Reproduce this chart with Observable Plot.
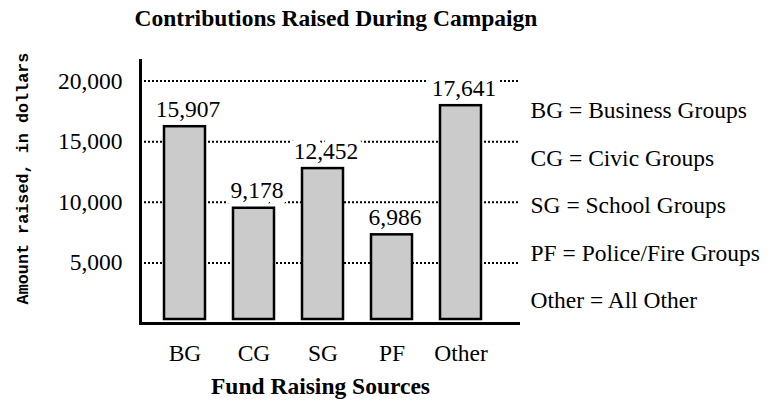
<!DOCTYPE html>
<html><head><meta charset="utf-8">
<script src="https://cdn.jsdelivr.net/npm/d3@7"></script>
<script src="https://cdn.jsdelivr.net/npm/@observablehq/plot@0.6"></script>
<style>
html,body{margin:0;padding:0;background:#fff;}
#title{width:672px;height:35px;padding-top:5px;line-height:40px;text-align:center;font:bold 23.5px "Liberation Serif","Times New Roman",serif;color:#000;white-space:nowrap;}
#chart svg{display:block;}
</style></head><body>
<div id="title"></div>
<div id="chart"></div>
<script>
const chartTitle = "Contributions Raised During Campaign";
const xTitle = "Fund Raising Sources";
const yTitle = "Amount raised, in dollars";
const categories = ["BG", "CG", "SG", "PF", "Other"];
const amounts = [15907, 9178, 12452, 6986, 17641];
const yTicks = [5000, 10000, 15000, 20000];
const legendLines = [
  "BG = Business Groups",
  "CG = Civic Groups",
  "SG = School Groups",
  "PF = Police/Fire Groups",
  "Other = All Other"
];

const fmt = d3.format(",");
const data = categories.map((c, i) => ({cat: c, value: amounts[i], label: fmt(amounts[i])}));
document.getElementById("title").textContent = chartTitle;

const fs = 23.5;

const chart = Plot.plot({
  width: 775,
  height: 360,
  marginLeft: 140,
  marginRight: 255,
  marginTop: 20,
  marginBottom: 77,
  x: {domain: categories, paddingInner: 0.405, paddingOuter: 0.4265, align: 0.374},
  y: {domain: [0, 21700]},
  style: {fontFamily: "'Liberation Serif', 'Times New Roman', serif", fontSize: fs + "px", background: "white", color: "black"},
  marks: [
    Plot.ruleY(yTicks, {stroke: "black", strokeWidth: 2, strokeDasharray: "2,2"}),
    Plot.text(data, {x: "cat", y: "value", text: "label", lineAnchor: "bottom", dy: -14, dx: 3, fontSize: fs,
      fill: "black", stroke: "white", strokeWidth: 13, strokeLinejoin: "round", paintOrder: "stroke"}),
    Plot.barY(data, {x: "cat", y: "value", fill: "#cbcbcb", stroke: "black", strokeWidth: 2.5, dy: -4}),
    Plot.ruleY([0], {stroke: "black", strokeWidth: 3}),
    Plot.frame({anchor: "left", stroke: "black", strokeWidth: 3}),
    Plot.axisY({ticks: yTicks, tickSize: 0, tickPadding: 18, tickFormat: fmt, label: null, fontSize: fs}),
    Plot.axisX({tickSize: 0, tickPadding: 21, label: null, fontSize: fs}),
    Plot.text([xTitle], {text: d => d, frameAnchor: "bottom", lineAnchor: "top", dy: 54, dx: -10, fontWeight: "bold", fontSize: fs}),
    Plot.text([yTitle], {text: d => d, frameAnchor: "left", textAnchor: "middle", lineAnchor: "middle", rotate: -90, dx: -118, dy: -13.5,
      fontFamily: "'Liberation Mono', 'DejaVu Sans Mono', monospace", fontWeight: "bold", fontSize: 16.8}),
    Plot.text([legendLines.join("\n")], {text: d => d, frameAnchor: "top-right", textAnchor: "start", lineAnchor: "top", lineHeight: 2.02, dx: 10, dy: 24, fontSize: fs})
  ]
});
document.getElementById("chart").appendChild(chart);
</script>
</body></html>
